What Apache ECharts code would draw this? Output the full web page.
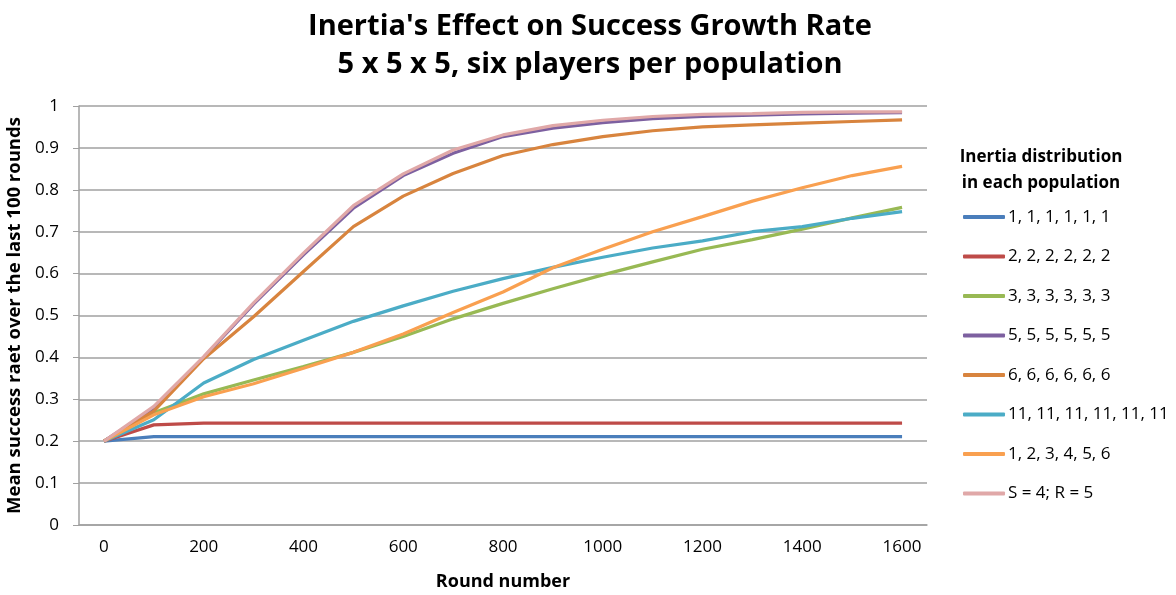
<!DOCTYPE html>
<html>
<head>
<meta charset="utf-8">
<script src="https://cdn.jsdelivr.net/npm/echarts@6/dist/echarts.min.js"></script>
<style>
  html, body { margin: 0; padding: 0; background: #fff; }
  #chart { width: 1176px; height: 595px; }
</style>
</head>
<body>
<div id="chart"></div>
<script>
// Round numbers along the x axis (every 100 rounds)
const rounds = ['0', '100', '200', '300', '400', '500', '600', '700', '800',
  '900', '1000', '1100', '1200', '1300', '1400', '1500', '1600'];

// Mean success rate for each inertia distribution
const inertia1 = [0.2, 0.211, 0.211, 0.211, 0.211, 0.211, 0.211, 0.211, 0.211, 0.211, 0.211, 0.211, 0.211, 0.211, 0.211, 0.211, 0.211];
const inertia2 = [0.2, 0.239, 0.243, 0.243, 0.243, 0.243, 0.243, 0.243, 0.243, 0.243, 0.243, 0.243, 0.243, 0.243, 0.243, 0.243, 0.243];
const inertia3 = [0.2, 0.268, 0.313, 0.346, 0.378, 0.412, 0.450, 0.492, 0.529, 0.564, 0.597, 0.628, 0.658, 0.681, 0.706, 0.733, 0.758];
const inertia5 = [0.2, 0.278, 0.400, 0.527, 0.645, 0.756, 0.834, 0.887, 0.927, 0.947, 0.960, 0.970, 0.975, 0.978, 0.981, 0.983, 0.984];
const inertia6 = [0.2, 0.272, 0.397, 0.497, 0.605, 0.712, 0.785, 0.839, 0.882, 0.908, 0.927, 0.941, 0.950, 0.955, 0.959, 0.963, 0.967];
const inertia11 = [0.2, 0.251, 0.339, 0.395, 0.441, 0.486, 0.523, 0.558, 0.588, 0.615, 0.639, 0.661, 0.678, 0.700, 0.712, 0.732, 0.748];
const inertiaMixed = [0.2, 0.263, 0.306, 0.337, 0.374, 0.412, 0.456, 0.507, 0.556, 0.614, 0.658, 0.700, 0.736, 0.773, 0.805, 0.834, 0.856];
const inertiaSR = [0.2, 0.283, 0.402, 0.530, 0.649, 0.762, 0.838, 0.895, 0.931, 0.953, 0.966, 0.975, 0.980, 0.982, 0.985, 0.986, 0.986];

// Y axis range
const yMin = 0, yMax = 1, yStep = 0.1;

const seriesDefs = [
  { name: '1, 1, 1, 1, 1, 1', data: inertia1, color: '#4a7ebb' },
  { name: '2, 2, 2, 2, 2, 2', data: inertia2, color: '#be4b48' },
  { name: '3, 3, 3, 3, 3, 3', data: inertia3, color: '#98b954' },
  { name: '5, 5, 5, 5, 5, 5', data: inertia5, color: '#7d60a0' },
  { name: '6, 6, 6, 6, 6, 6', data: inertia6, color: '#d8843e' },
  { name: '11, 11, 11, 11, 11, 11', data: inertia11, color: '#4bacc6' },
  { name: '1, 2, 3, 4, 5, 6', data: inertiaMixed, color: '#f9a050' },
  { name: 'S = 4; R = 5', data: inertiaSR, color: '#e0a8a8' }
];

const FONT = '"Open Sans", sans-serif';
const chart = echarts.init(document.getElementById('chart'));

chart.setOption({
  animation: false,
  backgroundColor: '#ffffff',
  textStyle: { fontFamily: FONT },
  title: [
    {
      text: "Inertia's Effect on Success Growth Rate\n5 x 5 x 5, six players per population",
      left: 585, top: 3, textAlign: 'center',
      textStyle: { fontFamily: FONT, fontSize: 29, fontWeight: 'bold', color: '#000', lineHeight: 38 }
    },
    {
      text: 'Inertia distribution\nin each population',
      left: 1036, top: 139, textAlign: 'center',
      textStyle: { fontFamily: FONT, fontSize: 17, fontWeight: 'bold', color: '#000', lineHeight: 26 }
    }
  ],
  legend: {
    orient: 'vertical',
    left: 958, top: 202,
    icon: 'roundRect',
    itemWidth: 42, itemHeight: 4,
    itemGap: 19.5,
    itemStyle: { borderWidth: 0 },
    textStyle: { fontFamily: FONT, fontSize: 17, color: '#000', lineHeight: 20, padding: [0, 0, 0, -2] },
    data: seriesDefs.map(s => s.name)
  },
  grid: { left: 79, right: 249, top: 106, bottom: 70, containLabel: false, outerBoundsMode: 'none' },
  xAxis: {
    type: 'category',
    data: rounds,
    boundaryGap: true,
    name: 'Round number',
    nameLocation: 'middle',
    nameGap: 48,
    nameTextStyle: { fontFamily: FONT, fontSize: 18, fontWeight: 'bold', color: '#000' },
    axisLine: { lineStyle: { color: '#a0a0a0', width: 1.5 } },
    axisTick: { alignWithLabel: true, interval: 0, length: 5, lineStyle: { color: '#a0a0a0' } },
    axisLabel: { interval: 1, fontFamily: FONT, fontSize: 17, color: '#000', margin: 14 },
    splitLine: { show: false }
  },
  yAxis: {
    type: 'value',
    min: yMin, max: yMax, interval: yStep,
    name: 'Mean success raet over the last 100 rounds',
    nameLocation: 'middle',
    nameGap: 49,
    nameTextStyle: { fontFamily: FONT, fontSize: 18.5, fontWeight: 'bold', color: '#000' },
    axisLine: { show: true, lineStyle: { color: '#a0a0a0', width: 1.5 } },
    axisTick: { show: true, length: 6, lineStyle: { color: '#a0a0a0' } },
    axisLabel: {
      fontFamily: FONT, fontSize: 17, color: '#000', margin: 20,
      formatter: v => String(Math.round(v * 10) / 10)
    },
    splitLine: { show: true, lineStyle: { color: '#a0a0a0', width: 1.5 } }
  },
  series: seriesDefs.map(s => ({
    name: s.name,
    type: 'line',
    data: s.data,
    symbol: 'none',
    smooth: false,
    color: s.color,
    lineStyle: { color: s.color, width: 3.2 },
    itemStyle: { color: s.color }
  }))
});
</script>
</body>
</html>
